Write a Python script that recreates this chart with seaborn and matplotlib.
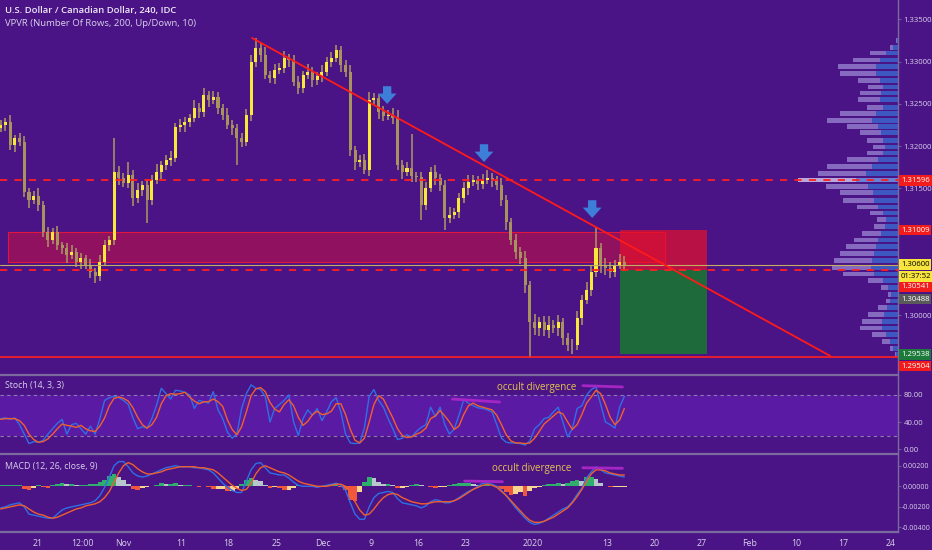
import numpy as np
import matplotlib
matplotlib.use("Agg")
import matplotlib.pyplot as plt
import seaborn as sns
from matplotlib.ticker import FormatStrFormatter

# ---------------- data ----------------
# price candles (half trading day per candle), closes
closes = [
    1.32251, 1.32286, 1.32014, 1.32097, 1.32050, 1.31459, 1.31364, 1.31411, 1.31305, 1.30986,
    1.30891, 1.30986, 1.30832, 1.30797, 1.30714, 1.30749, 1.30631, 1.30678, 1.30596, 1.30513,
    1.30466, 1.30631, 1.30832, 1.30891, 1.31697, 1.31624, 1.31565, 1.31660, 1.31388, 1.31483,
    1.31541, 1.31364, 1.31600, 1.31697, 1.31778, 1.31837, 1.31861, 1.32227, 1.32251, 1.32286,
    1.32333, 1.32451, 1.32404, 1.32605, 1.32546, 1.32581, 1.32451, 1.32369, 1.32251, 1.32215,
    1.32097, 1.32050, 1.32369, 1.32995, 1.33161, 1.33078, 1.32842, 1.32806, 1.32901, 1.32924,
    1.33042, 1.33019, 1.32759, 1.32688, 1.32842, 1.32877, 1.32782, 1.32830, 1.32877, 1.32995,
    1.33042, 1.33137, 1.32960, 1.32877, 1.31955, 1.31813, 1.31837, 1.31719, 1.32546, 1.32570,
    1.32404, 1.32357, 1.32369, 1.32333, 1.31778, 1.31697, 1.31742, 1.31648, 1.31636, 1.31305,
    1.31506, 1.31697, 1.31624, 1.31541, 1.31151, 1.31187, 1.31222, 1.31388, 1.31506, 1.31577,
    1.31600, 1.31553, 1.31600, 1.31624, 1.31600, 1.31541, 1.31364, 1.31104, 1.30891, 1.30749,
    1.30678, 1.30359, 1.29922, 1.29851, 1.29922, 1.29827, 1.29887, 1.29851, 1.29922, 1.29733,
    1.29650, 1.29650, 1.29969, 1.30182, 1.30300, 1.30513, 1.30797, 1.30596, 1.30560, 1.30513,
    1.30596, 1.30631, 1.30600]
first_open = 1.32220
wick_hi_pips = [
    6, 5, 8, 4, 6, 7, 5, 6, 9, 5, 6, 5, 7, 4, 6, 8, 5, 6, 4, 7,
    5, 8, 6, 5, 40, 7, 6, 15, 6, 8, 5, 7, 6, 9, 5, 6, 8, 5, 7, 6,
    5, 9, 6, 8, 5, 7, 6, 5, 8, 6, 5, 6, 7, 8, 12, 6, 9, 5, 7, 6,
    8, 5, 6, 7, 5, 9, 6, 5, 8, 6, 7, 6, 5, 6, 8, 5, 6, 7, 9, 6,
    5, 7, 6, 8, 9, 6, 7, 40, 5, 6, 7, 6, 8, 5, 6, 9, 5, 6, 7, 8,
    6, 5, 7, 10, 6, 5, 8, 6, 5, 7, 6, 8, 5, 9, 6, 7, 10, 6, 8, 5,
    6, 7, 8, 6, 9, 7, 25, 6, 8, 7, 6, 9, 7]
wick_lo_pips = [
    5, 7, 6, 8, 5, 6, 9, 5, 7, 6, 8, 5, 6, 7, 9, 5, 6, 8, 5, 7,
    8, 6, 5, 7, 6, 8, 5, 6, 9, 6, 7, 27, 6, 5, 8, 6, 7, 5, 6, 8,
    6, 5, 7, 6, 8, 5, 7, 6, 5, 8, 32, 6, 5, 7, 6, 8, 5, 6, 7, 5,
    6, 8, 5, 7, 6, 5, 8, 6, 7, 5, 6, 5, 8, 6, 7, 9, 6, 5, 7, 6,
    8, 6, 5, 7, 6, 9, 5, 7, 6, 18, 6, 5, 8, 7, 14, 6, 5, 7, 6, 8,
    5, 7, 6, 5, 8, 6, 7, 9, 6, 8, 7, 9, 42, 8, 10, 7, 9, 6, 10, 8,
    7, 11, 6, 8, 5, 7, 6, 9, 8, 7, 6, 5, 8]
candle_start_t = -3.9     # trading days relative to Oct 21
candle_step_t = 0.5

# Stochastic (14,3,3)
stoch_k = [
    45, 46, 44, 46, 36, 22, 8, 11, 10, 13, 22, 30, 38, 44, 22, 36, 38, 30, 22, 34,
    22, 45, 72, 76, 78, 76, 72, 66, 46, 30, 33, 31, 45, 65, 90, 82, 74, 87, 86, 84,
    80, 60, 72, 70, 68, 85, 58, 45, 25, 16, 22, 60, 82, 95, 90, 88, 78, 40, 60, 66,
    72, 80, 40, 20, 45, 58, 50, 60, 42, 55, 70, 76, 55, 22, 9, 8, 9, 32, 78, 88,
    72, 62, 45, 30, 14, 16, 21, 18, 26, 32, 36, 62, 48, 62, 36, 22, 30, 50, 73, 68,
    64, 61, 60, 58, 55, 36, 16, 10, 9, 9, 8, 6, 12, 30, 36, 45, 47, 55, 62, 40,
    18, 30, 60, 64, 80, 88, 92, 66, 40, 36, 31, 62, 78]
stoch_d = [
    44, 45, 45, 45, 42, 35, 22, 14, 10, 11, 15, 22, 30, 37, 35, 34, 32, 35, 30, 27,
    26, 34, 46, 64, 75, 77, 75, 71, 61, 47, 36, 31, 36, 47, 67, 79, 82, 81, 82, 84,
    77, 71, 67, 70, 70, 74, 70, 63, 43, 29, 21, 33, 55, 79, 89, 91, 85, 69, 59, 55,
    66, 73, 64, 47, 35, 41, 51, 56, 51, 52, 56, 67, 67, 51, 29, 13, 9, 16, 40, 66,
    79, 74, 60, 46, 30, 20, 17, 18, 22, 25, 31, 45, 49, 57, 49, 40, 29, 34, 51, 64,
    68, 64, 62, 60, 58, 50, 36, 21, 12, 9, 9, 8, 9, 16, 26, 37, 43, 49, 55, 52,
    40, 29, 36, 51, 68, 77, 87, 82, 66, 47, 36, 43, 60]

# MACD (12, 26, close, 9), values in units of 1e-4
macd_e4 = [
    -21, -20, -18, -17, -16, -20, -27, -28, -29, -30, -31, -31, -27, -23, -21, -20, -19, -18, -17, -16,
    -14, -9, -1, 9, 20, 24, 24, 19, 13, 10, 9, 10, 12, 14, 16, 18, 19, 20, 19, 19,
    19, 18, 18, 17, 16, 13, 8, 3, -1, -4, -6, -6, 5, 16, 22, 23, 18, 13, 12, 11,
    11, 8, 4, 1, 0, 0, 0, -1, 0, 1, 2, 3, 1, -4, -16, -27, -32, -32, -20, -11,
    -7, -6, -5, -6, -12, -16, -17, -18, -19, -21, -19, -15, -13, -14, -16, -16, -14, -11, -8, -5,
    -3, 0, 3, 3, 2, 0, -4, -9, -15, -21, -26, -31, -35, -37, -36, -34, -31, -28, -25, -22,
    -20, -15, -8, -2, 8, 14, 19, 16, 13, 12, 11, 10, 9]
signal_e4 = [
    -22, -21, -20, -19, -18, -19, -22, -25, -27, -28, -30, -31, -30, -28, -26, -24, -22, -21, -19, -18,
    -17, -15, -11, -5, 4, 13, 20, 23, 21, 17, 14, 12, 12, 13, 14, 16, 17, 18, 19, 19,
    19, 19, 18, 18, 17, 16, 13, 9, 5, 1, -2, -4, -3, 3, 12, 18, 20, 18, 16, 14,
    13, 11, 8, 5, 3, 2, 1, 0, 0, 0, 1, 2, 2, 0, -6, -15, -23, -28, -27, -22,
    -16, -11, -8, -7, -8, -11, -13, -15, -16, -17, -17, -16, -15, -15, -15, -15, -14, -12, -9, -6,
    -3, -1, 1, 2, 1, -1, -5, -9, -14, -19, -24, -29, -33, -35, -35, -34, -32, -30, -27, -24,
    -21, -16, -10, -3, 5, 12, 16, 16, 15, 13, 12, 11, 11]
hist_e4 = [
    1, 1, 1, 1, 1, -3, -4, -2, 1, -1, -2, 1, 2, 3, 2, 2, 1, 1, 1, 2,
    2, 4, 6, 10, 12, 9, 6, 2, -3, -4, -2, -1, 0, 1, 3, 2, 2, 3, 1, 1,
    1, 0, -1, 0, -1, -3, -3, -3, -5, -5, -3, 2, 6, 8, 6, 5, 1, -2, -1, -2,
    -4, -4, -2, 1, 0, 0, 0, -1, 0, 1, 1, 1, -1, -4, -13, -14, -6, 4, 9, 8,
    4, 2, 2, 1, -2, -2, -1, 1, 2, 1, 0, -1, -2, -1, -1, 1, 2, 3, 3, 3,
    2, 1, 1, 1, 0, -1, -3, -6, -8, -7, -6, -9, -5, -2, -1, 1, 2, 2, 3, 2,
    3, 5, 6, 5, 9, 9, 7, 3, 0, -1, -1, -1, -1]

# Volume profile (VPVR) rows: price, up volume, down volume (relative)
vp_price = [1.3325, 1.3317, 1.3310, 1.3302, 1.3294, 1.3286, 1.3278, 1.3270, 1.3263, 1.3255,
            1.3246, 1.3239, 1.3230, 1.3223, 1.3216, 1.3207, 1.3199, 1.3192, 1.3184, 1.3176,
            1.3168, 1.3160, 1.3152, 1.3145, 1.3136, 1.3128, 1.3121, 1.3113, 1.3105, 1.3097,
            1.3089, 1.3081, 1.3073, 1.3065, 1.3057, 1.3049, 1.3041, 1.3033, 1.3025, 1.3017,
            1.3009, 1.3001, 1.2993, 1.2985, 1.2977, 1.2969, 1.2961, 1.2954]
vp_up = [1, 5, 12, 18, 22, 22, 18, 15, 17, 18, 15, 22, 26, 20, 17, 15, 13, 15, 20, 26,
         32, 42, 30, 25, 24, 20, 15, 12, 13, 17, 20, 22, 24, 26, 27, 24, 15, 10, 7, 8,
         11, 14, 16, 16, 12, 8, 5, 2]
vp_down = [1, 3, 16, 27, 38, 36, 22, 15, 21, 22, 16, 36, 45, 31, 21, 16, 12, 16, 31, 45,
           48, 58, 42, 33, 31, 21, 13, 9, 11, 19, 24, 30, 34, 38, 39, 31, 15, 7, 3, 4,
           9, 16, 20, 22, 14, 8, 3, 1]
vp_poc = 1.3160

# drawings
trend_t = [22.7, 83.9]
trend_p = [1.33279, 1.29520]
zone_t = [-3.1, 66.4]
zone_p = [1.30631, 1.30986]
pos_t = [61.6, 70.8]
pos_entry, pos_stop, pos_target = 1.30541, 1.31009, 1.29538
level_dashed = [1.31596, 1.30541]
level_solid = 1.29504
last_price = 1.30600
arrow_t = [37.0, 47.25, 58.7]
arrow_tip = [1.32499, 1.31813, 1.31151]
stoch_div_t = [[43.9, 48.9], [57.7, 61.9]]
stoch_div_v = [[74, 69.6], [93.8, 91.9]]
macd_div_t = [[45.2, 49.2], [57.7, 61.9]]
macd_div_v = [[0.00051, 0.00045], [0.00180, 0.00175]]

price_ticks = [1.300, 1.315, 1.320, 1.325, 1.330, 1.335]
x_tick_t = [0, 4.8, 9.1, 15.2, 20.2, 25.3, 30.2, 35.3, 40.3, 45.3, 52.4, 60.3,
            65.3, 70.3, 75.3, 80.3, 85.3, 90.3]
x_tick_lbl = ["21", "12:00", "Nov", "11", "18", "25", "Dec", "9", "16", "23", "2020",
              "13", "20", "27", "Feb", "10", "17", "24"]
price_tags = [  # value, text, face, text colour, vertical offset (pt)
    (1.31596, "1.31596", "#f21c1c", "white", 0),
    (1.31009, "1.31009", "#f21c1c", "white", 0),
    (1.30600, "1.30600", "#f7e43c", "black", 0),
    (1.30600, "01:37:52", "#f7e43c", "black", -8.5),
    (1.30541, "1.30541", "#f21c1c", "white", -12.5),
    (1.30488, "1.30488", "#5a5a5a", "white", -18.0),
    (1.29538, "1.29538", "#1d7a3a", "white", 0),
    (1.29504, "1.29504", "#f21c1c", "white", -6.3),
]

# ---------------- style ----------------
sns.set_style("dark")
plt.rcParams['font.family'] = ['Open Sans', 'DejaVu Sans']
BG = "#4a1486"
TXT = "#d9d0ea"
SEP = "#7b6a9e"
TICK_FS = 5.6

W, H = 932, 550
fig = plt.figure(figsize=(W / 100, H / 100), dpi=100, facecolor=BG)


def rect(x0, y0, x1, y1):
    return [x0 / W, 1 - y1 / H, (x1 - x0) / W, (y1 - y0) / H]


ax = fig.add_axes(rect(0, 0, 898, 373))
ax_s = fig.add_axes(rect(0, 375, 898, 452))
ax_m = fig.add_axes(rect(0, 454, 898, 532))
XL = ((0 - 37.5) / 9.45, (898 - 37.5) / 9.45)

for a in (ax, ax_s, ax_m):
    a.set_facecolor(BG)
    a.grid(False)
    a.set_xlim(*XL)
    a.yaxis.tick_right()
    a.tick_params(axis='y', colors=TXT, labelsize=TICK_FS, length=2.5, width=0.6, pad=1.5)
    a.tick_params(axis='x', colors=TXT, labelsize=6.3, length=3, width=0.6, pad=2)
    for s in a.spines.values():
        s.set_visible(False)
    a.spines['right'].set_visible(True)
    a.spines['right'].set_color(SEP)
    a.spines['right'].set_linewidth(1.0)
    a.tick_params(axis='y', color=SEP)
    a.tick_params(axis='x', color=SEP)
for a in (ax_s, ax_m):
    a.spines['top'].set_visible(True)
    a.spines['top'].set_color(SEP)
    a.spines['top'].set_linewidth(1.6)
ax_m.spines['bottom'].set_visible(True)
ax_m.spines['bottom'].set_color(SEP)
ax_m.spines['bottom'].set_linewidth(1.6)
ax_m.tick_params(axis='y', labelsize=5.0, length=2, pad=1)

# ---------------- main panel ----------------
ax.set_ylim(1.29319, 1.33728)
ax_vp = ax.twiny()
ax_vp.set_xlim(898, 0)
ax_vp.set_facecolor(BG)
ax_vp.set_xticks([])
for s in ax_vp.spines.values():
    s.set_visible(False)
ax.set_zorder(2)
ax_vp.set_zorder(1)
ax.patch.set_visible(False)

vp_p = np.array(vp_price)
up = np.array(vp_up, float)
dn = np.array(vp_down, float)
is_poc = np.isclose(vp_p, vp_poc)
ax_vp.barh(vp_p, up, height=0.00056, left=0, color=np.where(is_poc, "#6f94e6", "#3b66cc"),
           alpha=0.85, linewidth=0)
ax_vp.barh(vp_p, dn, height=0.00056, left=up, color=np.where(is_poc, "#d6cdf0", "#9580cf"),
           alpha=0.8, linewidth=0)

# candles
c = np.array(closes)
o = np.concatenate([[first_open], c[:-1]])
t = candle_start_t + candle_step_t * np.arange(len(c))
hi = np.maximum(o, c) + np.array(wick_hi_pips) * 1e-4
lo = np.minimum(o, c) - np.array(wick_lo_pips) * 1e-4
upc = c >= o
body_col = np.where(upc, "#f7e83a", "#a8925e")
ax.vlines(t, lo, hi, color="#a58f62", lw=1.2, zorder=3)
body_h = np.where(np.abs(c - o) < 0.00004, 0.00004, np.abs(c - o))
ax.bar(t, body_h, bottom=np.minimum(o, c), width=0.32, color=body_col, linewidth=0, zorder=4)

# zone and position boxes
ax.fill_between(zone_t, zone_p[0], zone_p[1], color="#d4103c", alpha=0.5, linewidth=0, zorder=2)
ax.plot([zone_t[0], zone_t[1], zone_t[1], zone_t[0], zone_t[0]],
        [zone_p[0], zone_p[0], zone_p[1], zone_p[1], zone_p[0]],
        color="#e0143c", lw=0.8, zorder=2)
ax.fill_between(pos_t, pos_entry, pos_stop, color="#e8102a", alpha=0.7, linewidth=0, zorder=2)
ax.fill_between(pos_t, pos_target, pos_entry, color="#1f6a3a", alpha=1.0, linewidth=0, zorder=2)

# levels
for lv in level_dashed:
    ax.axhline(lv, color="#ff2020", lw=1.3, dashes=(4, 4), zorder=5)
ax.axhline(level_solid, color="#ff2020", lw=1.2, zorder=5)
ax.axhline(last_price, color="#c2ae5e", lw=0.8, zorder=5)
ax.plot(trend_t, trend_p, color="#ff1a1a", lw=1.3, zorder=6)

for at, ap in zip(arrow_t, arrow_tip):
    ax.annotate("", xy=(at, ap), xytext=(at, ap + 0.0021),
                arrowprops=dict(arrowstyle="simple,head_length=0.5,head_width=0.9,tail_width=0.4",
                                color="#3d7fd8", lw=0, mutation_scale=15, shrinkA=0, shrinkB=0),
                zorder=7)

ax.set_yticks(price_ticks)
ax.yaxis.set_major_formatter(FormatStrFormatter('%.5f'))
ax.set_xticks([])

for val, txt, fc, tc, dy in price_tags:
    ax.annotate(txt, xy=(1.0, val), xycoords=('axes fraction', 'data'),
                xytext=(2.2, dy), textcoords='offset points', ha='left', va='center',
                fontsize=TICK_FS, color=tc, annotation_clip=False, zorder=10,
                bbox=dict(boxstyle='square,pad=0.22', fc=fc, ec='none'))

fig.text(5 / W, 1 - 10 / H, "U.S. Dollar / Canadian Dollar, 240, IDC", color="#ece6f6",
         fontsize=6.8, va='center', ha='left', fontweight='semibold')
fig.text(5 / W, 1 - 23 / H, "VPVR (Number Of Rows, 200, Up/Down, 10)", color=TXT,
         fontsize=6.8, va='center', ha='left')

# ---------------- stochastic ----------------
ax_s.set_ylim(-4.4, 109.6)
ax_s.axhspan(20, 80, color="#5b1aa3", lw=0, zorder=0)
for lv in (20, 80):
    ax_s.axhline(lv, color="#8d7cae", lw=0.8, dashes=(3, 3), zorder=1)
sns.lineplot(x=t, y=stoch_k, ax=ax_s, color="#2f6fe6", linewidth=1.0, zorder=3)
sns.lineplot(x=t, y=stoch_d, ax=ax_s, color="#f0602c", linewidth=1.0, zorder=4)
for dt, dv in zip(stoch_div_t, stoch_div_v):
    ax_s.plot(dt, dv, color="#a526c4", lw=2, zorder=5)
ax_s.text(52.8, 90.8, "occult divergence", color="#e6c54e", fontsize=7, ha='center', va='center')
ax_s.set_yticks([0, 40, 80])
ax_s.yaxis.set_major_formatter(FormatStrFormatter('%.2f'))
ax_s.set_xticks([])
ax_s.set_ylabel("")
ax_s.text(0.006, 0.86, "Stoch (14, 3, 3)", transform=ax_s.transAxes, color=TXT, fontsize=6.3,
          ha='left', va='center')

# ---------------- MACD ----------------
ax_m.set_ylim(-0.004437, 0.003136)
hist = np.array(hist_e4) * 1e-4
prev = np.concatenate([[0.0], hist[:-1]])
hcol = np.where(hist >= 0, np.where(hist >= prev, "#2fae6e", "#b9c6cc"),
                np.where(hist < prev, "#f0573e", "#f7d592"))
ax_m.bar(t, hist, width=0.5, color=hcol, linewidth=0, zorder=2)
sns.lineplot(x=t, y=np.array(macd_e4) * 1e-4, ax=ax_m, color="#2f6fe6", linewidth=1.0, zorder=3)
sns.lineplot(x=t, y=np.array(signal_e4) * 1e-4, ax=ax_m, color="#f0602c", linewidth=1.0, zorder=4)
for dt, dv in zip(macd_div_t, macd_div_v):
    ax_m.plot(dt, dv, color="#a526c4", lw=2, zorder=5)
ax_m.text(52.3, 0.00168, "occult divergence", color="#e6c54e", fontsize=7, ha='center', va='center')
ax_m.set_yticks([-0.004, -0.002, 0.0, 0.002])
ax_m.yaxis.set_major_formatter(FormatStrFormatter('%.5f'))
ax_m.set_ylabel("")
ax_m.text(0.006, 0.84, "MACD (12, 26, close, 9)", transform=ax_m.transAxes, color=TXT,
          fontsize=6.3, ha='left', va='center')
ax_m.set_xticks(x_tick_t)
ax_m.set_xticklabels(x_tick_lbl)

fig.savefig("out.png", dpi=100, facecolor=BG)
